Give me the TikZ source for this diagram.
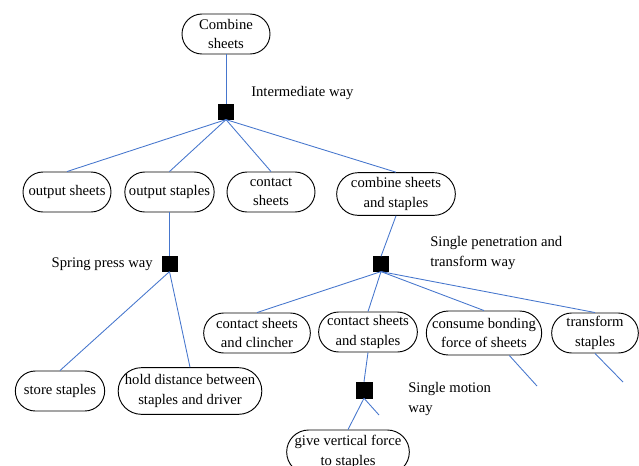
\documentclass[tikz,border=0pt]{standalone}
\usepackage{fontspec}
\setmainfont{Liberation Serif}
\usetikzlibrary{shapes.misc}
\definecolor{conn}{RGB}{70,118,205}
\tikzset{
  fn/.style={rounded rectangle, draw=black, line width=0.7pt, inner sep=0pt, align=center,
    font=\fontsize{11}{14.5}\selectfont, minimum height=30pt},
  sq/.style={rectangle, fill=black, draw=black, inner sep=0pt, minimum size=11pt},
  lbl/.style={font=\fontsize{11}{14.5}\selectfont, inner sep=0pt, align=left},
  cn/.style={draw=conn, line width=0.65pt}
}
\begin{document}
\begin{tikzpicture}[x=0.75pt,y=-0.75pt]
\useasboundingbox (0,0) rectangle (639,465);
\clip (0,0) rectangle (639,465);
% nodes
\node[fn, minimum width=66pt] (root) at (226,34) {Combine\\sheets};
\node[sq] (s1) at (226,112) {};
\node[lbl, anchor=west] (l1) at (251,93) {Intermediate way};
\node[fn, minimum width=66pt] (os) at (67,192) {output sheets};
\node[fn, minimum width=67pt] (ost) at (169.5,192) {output staples};
\node[fn, minimum width=66pt] (cs) at (271,192) {contact\\sheets};
\node[fn, minimum width=89pt, minimum height=32pt] (css) at (396,194) {combine sheets\\and staples};
\node[sq] (s2) at (169.5,264) {};
\node[lbl, anchor=east] (l2) at (153,264) {Spring press way};
\node[fn, minimum width=67pt] (ss) at (60,391) {store staples};
\node[fn, minimum width=107pt, minimum height=35pt] (hd) at (190,391) {hold distance between\\staples and driver};
\node[sq] (s3) at (381,264) {};
\node[lbl, anchor=west] (l3) at (430,253) {Single penetration and\\transform way};
\node[fn, minimum width=80pt] (csc) at (257,333) {contact sheets\\and clincher};
\node[fn, minimum width=73pt] (cst) at (368,332) {contact sheets\\and staples};
\node[fn, minimum width=86pt, minimum height=33pt] (cb) at (484,333) {consume bonding\\force of sheets};
\node[fn, minimum width=65pt] (ts) at (595,333) {transform\\staples};
\node[sq, minimum size=12pt] (s4) at (364,390) {};
\node[lbl, anchor=west] (l4) at (408,399) {Single motion\\way};
\node[fn, minimum width=92pt, minimum height=33pt] (gv) at (348,452) {give vertical force\\to staples};
\coordinate (e1) at (537,386);
\coordinate (e2) at (623,382);
\coordinate (e3) at (379,415);
% connectors
\draw[cn] (root.south) -- (s1.north);
\draw[cn] (s1.south) -- (os.north);
\draw[cn] (s1.south) -- (ost.north);
\draw[cn] (s1.south) -- (cs.north);
\draw[cn] (s1.south) -- (css.north);
\draw[cn] (ost.south) -- (s2.north);
\draw[cn] (s2.south) -- (ss.north);
\draw[cn] (s2.south) -- (hd.north);
\draw[cn] (css.south) -- (s3.north);
\draw[cn] (s3.south) -- (csc.north);
\draw[cn] (s3.south) -- (cst.north);
\draw[cn] (s3.south) -- (cb.north);
\draw[cn] (s3.south) -- (ts.north);
\draw[cn] ([xshift=19pt]cb.south) -- (e1);
\draw[cn] (ts.south) -- (e2);
\draw[cn] (cst.south) -- (s4.north);
\draw[cn] (s4.south) -- (gv.north);
\draw[cn] (s4.south) -- (e3);
\end{tikzpicture}
\end{document}
